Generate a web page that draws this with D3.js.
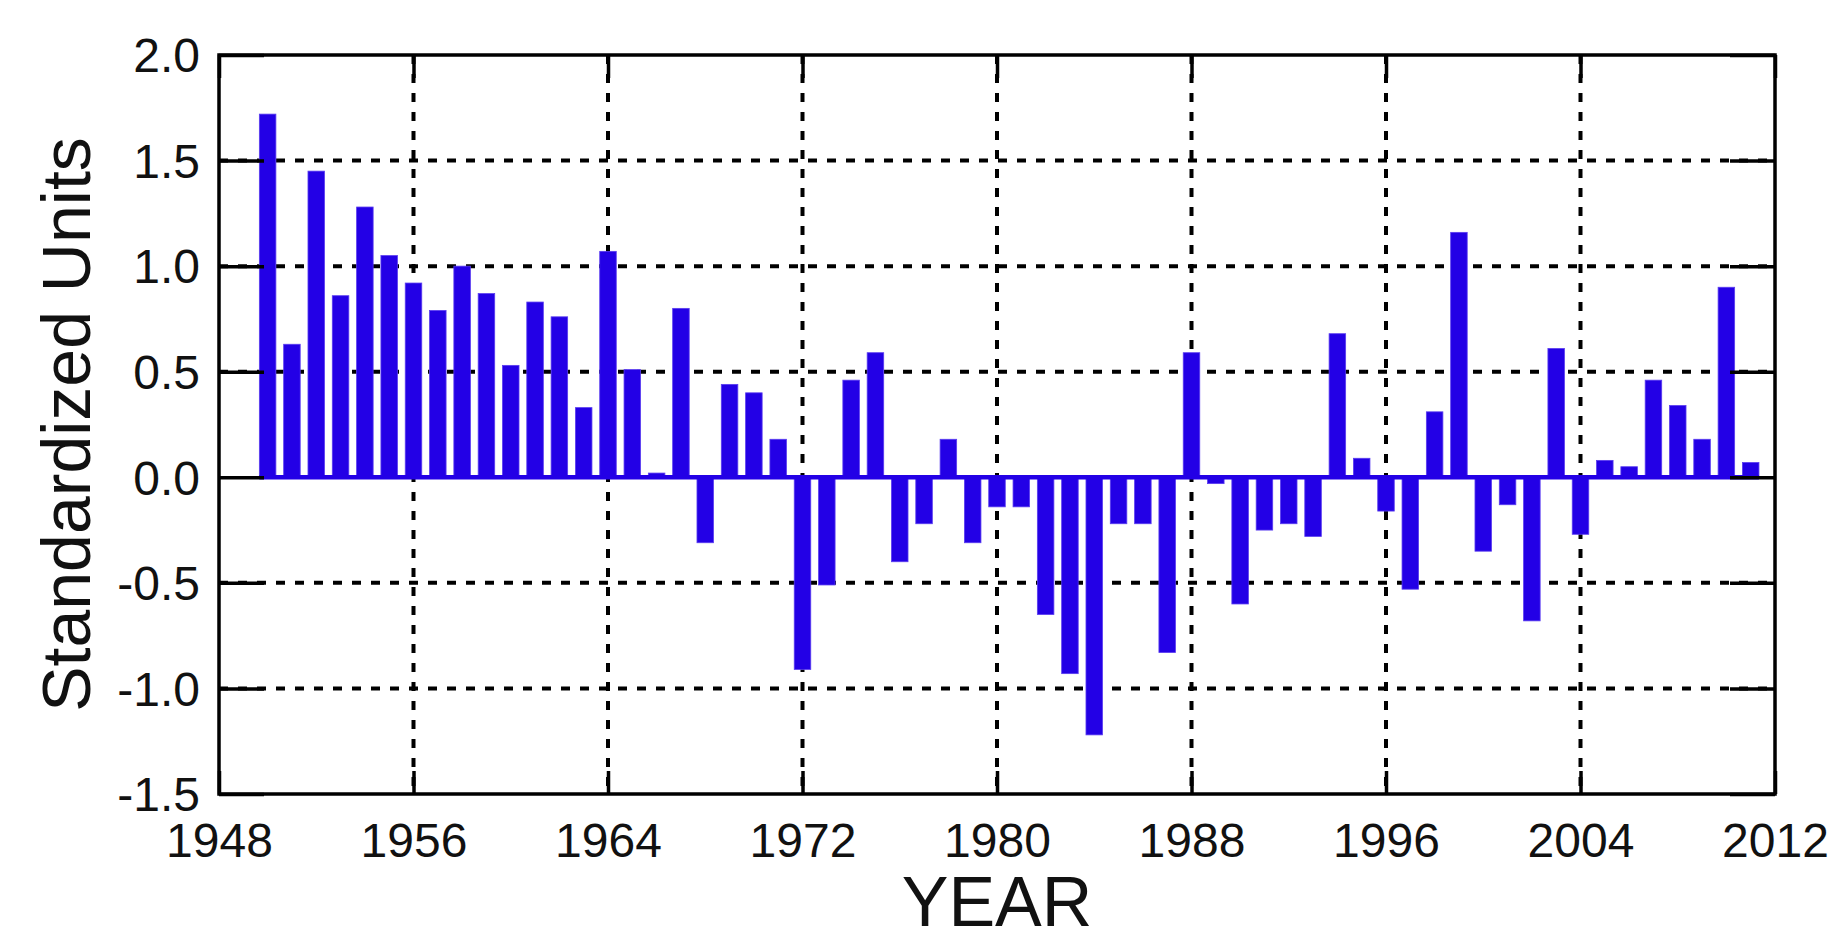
<!DOCTYPE html>
<meta charset="utf-8">
<html>
<script src="https://d3js.org/d3.v7.min.js"></script>
<style>
    body { margin: 0; background: #fff; }
    text { font-family: "Liberation Sans", Arial, sans-serif; fill: #111; }
</style>
<body>
<div id="my_dataviz"></div>
<script>
    // yearly values (1950-2011)
    var years = d3.range(1950, 2012);
    var values = [
        1.72, 0.63, 1.45, 0.86, 1.28, 1.05, 0.92, 0.79, 1.00, 0.87,
        0.53, 0.83, 0.76, 0.33, 1.07, 0.51, 0.02, 0.80, -0.31, 0.44,
        0.40, 0.18, -0.91, -0.51, 0.46, 0.59, -0.40, -0.22, 0.18, -0.31,
        -0.14, -0.14, -0.65, -0.93, -1.22, -0.22, -0.22, -0.83, 0.59, -0.03,
        -0.60, -0.25, -0.22, -0.28, 0.68, 0.09, -0.16, -0.53, 0.31, 1.16,
        -0.35, -0.13, -0.68, 0.61, -0.27, 0.08, 0.05, 0.46, 0.34, 0.18,
        0.90, 0.07
    ];
    var xTicks = [1948, 1956, 1964, 1972, 1980, 1988, 1996, 2004, 2012];
    var yTicks = [2.0, 1.5, 1.0, 0.5, 0.0, -0.5, -1.0, -1.5];

    var margin = { top: 55, right: 56, bottom: 147, left: 219 },
        width = 1831 - margin.left - margin.right,
        height = 941 - margin.top - margin.bottom;

    var svg = d3.select("#my_dataviz")
        .append("svg")
        .attr("width", 1831)
        .attr("height", 941)
        .append("g")
        .attr("transform", "translate(" + margin.left + "," + margin.top + ")");

    var x = d3.scaleLinear().domain([1948, 2012]).range([0, width]);
    var y = d3.scaleLinear().domain([-1.5, 2.0]).range([height, 0]);
    var barW = (x(1) - x(0)) * 0.68;
    var blue = "#2300e6";

    // dotted grid
    svg.append("g").selectAll("line")
        .data(xTicks.slice(1, -1)).enter().append("line")
        .attr("x1", function (d) { return x(d); })
        .attr("x2", function (d) { return x(d); })
        .attr("y1", 0).attr("y2", height)
        .attr("stroke", "#000").attr("stroke-width", 4)
        .attr("stroke-dasharray", "9,10");
    svg.append("g").selectAll("line")
        .data(yTicks.filter(function (d) { return d > -1.5 && d < 2 && d !== 0; })).enter().append("line")
        .attr("x1", 0).attr("x2", width)
        .attr("y1", function (d) { return y(d); })
        .attr("y2", function (d) { return y(d); })
        .attr("stroke", "#000").attr("stroke-width", 4)
        .attr("stroke-dasharray", "9,10");

    // bars
    svg.append("g").selectAll("rect")
        .data(years).enter().append("rect")
        .attr("x", function (d) { return x(d) - barW / 2; })
        .attr("width", barW)
        .attr("y", function (d, i) { return y(Math.max(0, values[i])); })
        .attr("height", function (d, i) { return Math.abs(y(values[i]) - y(0)); })
        .attr("fill", blue)
        .attr("stroke", "#5a3cf0").attr("stroke-width", 0.8);

    // baseline
    svg.append("line")
        .attr("x1", x(years[0]) - barW / 2)
        .attr("x2", x(years[years.length - 1]) + barW / 2)
        .attr("y1", y(0)).attr("y2", y(0))
        .attr("stroke", blue).attr("stroke-width", 4.5);

    // axes
    var axB = svg.append("g")
        .attr("transform", "translate(0," + height + ")")
        .call(d3.axisBottom(x).tickValues(xTicks).tickFormat(d3.format("d"))
            .tickSizeInner(-23).tickSizeOuter(0).tickPadding(29));
    var axT = svg.append("g")
        .call(d3.axisTop(x).tickValues(xTicks).tickFormat("")
            .tickSizeInner(-23).tickSizeOuter(0));
    var axL = svg.append("g")
        .call(d3.axisLeft(y).tickValues(yTicks).tickFormat(function (d) { return d.toFixed(1); })
            .tickSizeInner(-45).tickSizeOuter(0).tickPadding(19));
    var axR = svg.append("g")
        .attr("transform", "translate(" + width + ",0)")
        .call(d3.axisRight(y).tickValues(yTicks).tickFormat("")
            .tickSizeInner(-45).tickSizeOuter(0));

    [axB, axT, axL, axR].forEach(function (a) {
        a.selectAll(".domain").remove();
        a.selectAll("line").attr("stroke", "#000").attr("stroke-width", 3.5);
        a.selectAll("text").style("font-size", "48px").attr("fill", "#111")
            .style("font-family", "'Liberation Sans', Arial, sans-serif");
    });
    axL.selectAll("text").attr("dy", "0.35em");

    // frame
    svg.append("rect")
        .attr("x", 0).attr("y", 0)
        .attr("width", width).attr("height", height)
        .attr("fill", "none").attr("stroke", "#000").attr("stroke-width", 3.5);

    // labels
    svg.append("text")
        .attr("x", width / 2).attr("y", 926 - margin.top)
        .attr("text-anchor", "middle")
        .style("font-size", "70px")
        .text("YEAR");
    svg.append("text")
        .attr("transform", "translate(" + (90 - margin.left) + "," + (height / 2) + ") rotate(-90)")
        .attr("text-anchor", "middle")
        .style("font-size", "68px")
        .text("Standardized Units");
</script>
</body>
</html>
